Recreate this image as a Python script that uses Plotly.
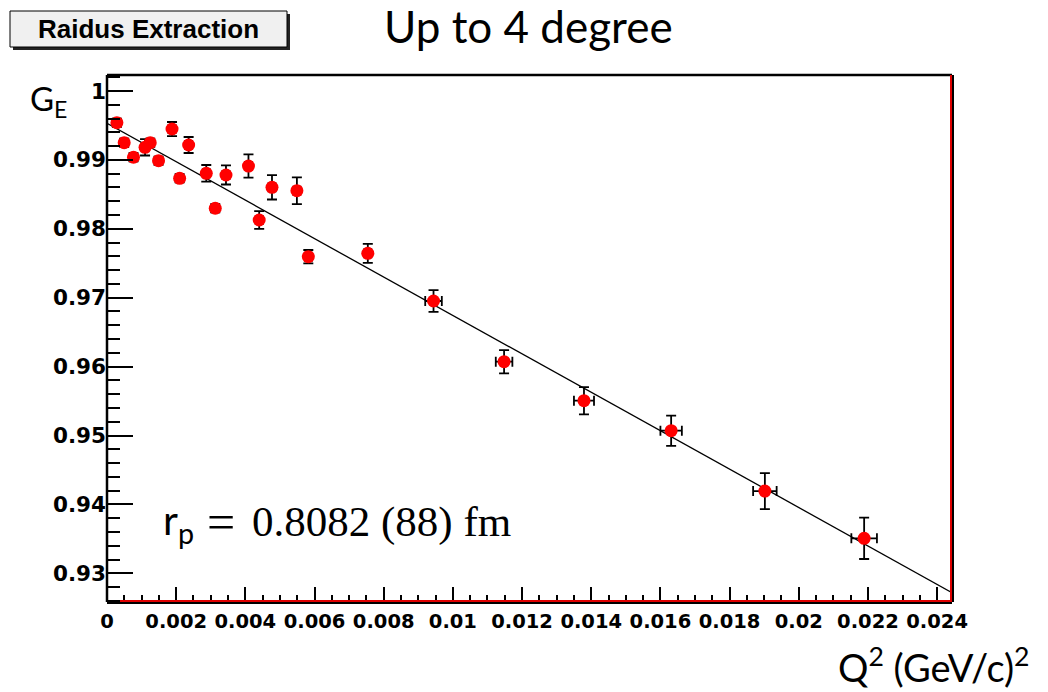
import plotly.graph_objects as go

# ---- data ----
q2 = [0.000286, 0.000497, 0.000766, 0.00110, 0.00125, 0.00149, 0.00188, 0.00210,
      0.00236, 0.00287, 0.00313, 0.00344, 0.00409, 0.00440, 0.00477, 0.00549,
      0.00582, 0.00754, 0.00944, 0.01148, 0.01379, 0.01631, 0.01902, 0.02189]
ge = [0.99540, 0.99250, 0.99038, 0.99183, 0.99250, 0.98988, 0.99448, 0.98733,
      0.99216, 0.98805, 0.98298, 0.98781, 0.98911, 0.98128, 0.98602, 0.98553,
      0.97595, 0.97644, 0.96952, 0.96071, 0.95505, 0.95070, 0.94194, 0.93508]
ge_err = [0.0006, 0.0006, 0.0006, 0.00119, 0.0006, 0.0006, 0.00102, 0.0006,
          0.00116, 0.00121, 0.0006, 0.00138, 0.00169, 0.00128, 0.00177, 0.00194,
          0.00097, 0.00138, 0.00157, 0.00169, 0.00198, 0.00220, 0.00261, 0.00300]
q2_err = [0.0001] * 18 + [0.00024, 0.00024, 0.00029, 0.00031, 0.00034, 0.00037]

fit_q2 = [0.0, 0.02443]
fit_ge = [0.9953, 0.9272]

x_tick_vals = [0, 0.002, 0.004, 0.006, 0.008, 0.01, 0.012, 0.014, 0.016, 0.018, 0.02, 0.022, 0.024]
x_tick_text = ["0", "0.002", "0.004", "0.006", "0.008", "0.01", "0.012", "0.014",
               "0.016", "0.018", "0.02", "0.022", "0.024"]
y_tick_vals = [0.93, 0.94, 0.95, 0.96, 0.97, 0.98, 0.99, 1.0]
y_tick_text = ["0.93", "0.94", "0.95", "0.96", "0.97", "0.98", "0.99", "1"]

title_text = "Up to 4 degree"
box_text = "Raidus Extraction"
result_sym = "r<sub>p</sub>"
result_eq = "="
result_val = "0.8082 (88) fm"

# ---- layout geometry (pixels, in the reference's frame) ----
W, H = 1048, 692
OFF = 8  # page offset of the figure inside the browser window
L, R, T, B = 107, 952, 75, 602


def px(x):
    return (x - L) / (R - L)


def py(y):
    return (B - y) / (B - T)


fig = go.Figure()

fig.add_trace(go.Scatter(
    x=fit_q2, y=fit_ge, mode="lines",
    line=dict(color="black", width=1.3), hoverinfo="skip", showlegend=False))

fig.add_trace(go.Scatter(
    x=q2, y=ge, mode="markers",
    marker=dict(color="#ff0000", size=13, line=dict(width=0)),
    error_y=dict(type="data", array=ge_err, color="black", thickness=1.8, width=5),
    error_x=dict(type="data", array=q2_err, color="black", thickness=1.8, width=5),
    showlegend=False))

ytickfont = dict(family="DejaVu Sans", size=21.5, color="black", weight="bold")
xtickfont = dict(family="DejaVu Sans", size=19.5, color="black", weight="bold")

fig.update_xaxes(
    range=[0, 0.02443], tickmode="array", tickvals=x_tick_vals, ticktext=x_tick_text,
    ticks="inside", ticklen=15, tickwidth=2, tickcolor="black", tickangle=0,
    ticklabelstandoff=5,
    showgrid=False, zeroline=False, showline=False, tickfont=xtickfont,
    minor=dict(dtick=0.0005, tick0=0, ticks="inside", ticklen=7, tickwidth=2,
               tickcolor="black", showgrid=False),
)
fig.update_yaxes(
    range=[0.92584, 1.00232], tickmode="array", tickvals=y_tick_vals, ticktext=y_tick_text,
    ticks="inside", ticklen=26, tickwidth=2, tickcolor="black",
    showgrid=False, zeroline=False, showline=False, tickfont=ytickfont,
    minor=dict(dtick=0.002, tick0=0.93, ticks="inside", ticklen=13, tickwidth=2,
               tickcolor="black", showgrid=False),
)

shapes = [
    # frame
    dict(type="line", xref="paper", yref="paper", x0=0, x1=0, y0=0, y1=1,
         line=dict(color="black", width=2.5)),
    dict(type="line", xref="paper", yref="paper", x0=0, x1=1, y0=1, y1=1,
         line=dict(color="black", width=2.5)),
    dict(type="line", xref="paper", yref="paper", x0=0, x1=1, y0=0, y1=0,
         line=dict(color="black", width=4)),
    dict(type="line", xref="paper", yref="paper", x0=1, x1=1, y0=0, y1=1,
         line=dict(color="black", width=4)),
    dict(type="line", xref="paper", yref="paper", x0=px(120), x1=1, y0=py(601), y1=py(601),
         line=dict(color="#e00000", width=2)),
    dict(type="line", xref="paper", yref="paper", x0=px(951), x1=px(951), y0=0, y1=1,
         line=dict(color="#e00000", width=2)),
    # box shadow + box
    dict(type="rect", xref="paper", yref="paper", x0=px(13), x1=px(290), y0=py(50), y1=py(14),
         fillcolor="#222222", line=dict(width=0)),
    dict(type="rect", xref="paper", yref="paper", x0=px(10), x1=px(287), y0=py(47), y1=py(11),
         fillcolor="#f0f0f0", line=dict(color="black", width=1)),
]

annotations = [
    dict(text=box_text, x=px(148.5), y=py(29), xref="paper", yref="paper",
         showarrow=False, xanchor="center", yanchor="middle",
         font=dict(family="Liberation Sans", size=26, color="black", weight="bold")),
    dict(text=title_text, x=px(528), y=py(26), xref="paper", yref="paper",
         showarrow=False, xanchor="center", yanchor="middle",
         font=dict(family="Lato", size=44, color="black")),
    dict(text="G<sub>E</sub>", x=px(28), y=py(100), xref="paper", yref="paper",
         showarrow=False, xanchor="left", yanchor="middle",
         font=dict(family="Lato", size=33, color="black")),
    dict(text="Q<sup>2</sup> (GeV/c)<sup>2</sup>", x=px(1032), y=py(665), xref="paper", yref="paper",
         showarrow=False, xanchor="right", yanchor="middle",
         font=dict(family="Lato", size=38, color="black")),
    dict(text=result_sym, x=px(161), y=py(522), xref="paper", yref="paper",
         showarrow=False, xanchor="left", yanchor="middle",
         font=dict(family="Lato", size=41, color="black")),
    dict(text=result_eq, x=px(221), y=py(522), xref="paper", yref="paper",
         showarrow=False, xanchor="center", yanchor="middle",
         font=dict(family="Liberation Serif", size=50, color="black")),
    dict(text=result_val, x=px(250), y=py(522), xref="paper", yref="paper",
         showarrow=False, xanchor="left", yanchor="middle",
         font=dict(family="Liberation Serif", size=43, color="black")),
]

fig.update_layout(
    width=W, height=H,
    margin=dict(l=L - OFF, r=W - (R - OFF), t=T - OFF, b=H - (B - OFF), pad=0),
    paper_bgcolor="white", plot_bgcolor="white",
    shapes=shapes, annotations=annotations,
    showlegend=False,
)

fig.write_html("out.html")
